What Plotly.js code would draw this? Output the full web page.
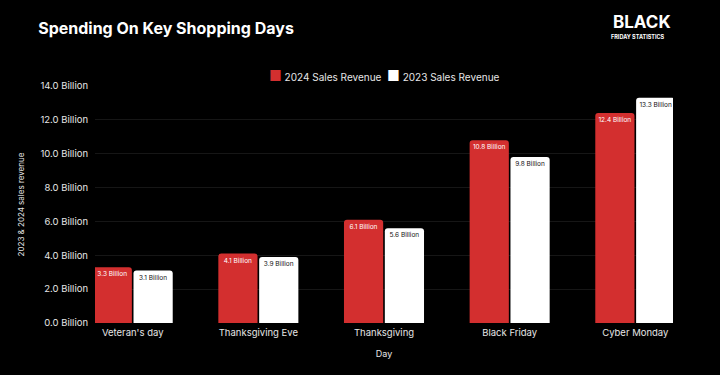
<!DOCTYPE html>
<html>
<head>
<meta charset="utf-8">
<script src="https://cdn.plot.ly/plotly-3.0.1.min.js"></script>
<style>html,body{margin:0;padding:0;background:#000;}#chart{width:720px;height:375px;}</style>
</head>
<body>
<div id="chart"></div>
<script>
const categories = ["Veteran's day", "Thanksgiving Eve", "Thanksgiving", "Black Friday", "Cyber Monday"];
const sales2024 = [3.3, 4.1, 6.1, 10.8, 12.4];
const sales2023 = [3.1, 3.9, 5.6, 9.8, 13.3];
const seriesNames = ["2024 Sales Revenue", "2023 Sales Revenue"];
const seriesColors = ['#d32f2f', '#ffffff'];
const labels2024 = sales2024.map(v => v.toFixed(1) + " Billion");
const labels2023 = sales2023.map(v => v.toFixed(1) + " Billion");

const font = "Inter, 'Open Sans', sans-serif";
const traces = [
  {type: 'bar', name: seriesNames[0], x: categories, y: sales2024, text: labels2024,
   textposition: 'inside', insidetextanchor: 'end', textangle: 0,
   textfont: {family: font, size: 6.5, color: '#ffffff'},
   marker: {color: seriesColors[0], cornerradius: 3}, hoverinfo: 'none', showlegend: false},
  {type: 'bar', name: seriesNames[1], x: categories, y: sales2023, text: labels2023,
   textposition: 'inside', insidetextanchor: 'end', textangle: 0,
   textfont: {family: font, size: 6.5, color: '#111111'},
   marker: {color: seriesColors[1], cornerradius: 3}, hoverinfo: 'none', showlegend: false}
];

const legendText = seriesNames.map((n, i) =>
  `<span style="color:${seriesColors[i]};font-size:14px">■</span> ${n}`).join('  ');

const layout = {
  width: 720, height: 375,
  paper_bgcolor: '#000000', plot_bgcolor: '#000000',
  margin: {l: 95, r: 47, t: 86, b: 52},
  font: {family: font, color: '#e6e6e6', size: 9},
  title: {text: '<b>Spending On Key Shopping Days</b>', x: 0.053, xanchor: 'left', y: 0.925, yanchor: 'middle',
          font: {family: font, size: 16, color: '#ffffff'}},
  barmode: 'group', bargap: 0.35, bargroupgap: 0.04,
  showlegend: false,
  xaxis: {range: [-0.3, 4.3], showgrid: false, zeroline: false, showline: false,
          tickfont: {family: font, size: 9.5, color: '#e6e6e6'}, ticks: '', ticklabelstandoff: 2,
          title: {text: 'Day', font: {family: font, size: 9, color: '#e6e6e6'}, standoff: 14}},
  yaxis: {range: [0, 14], dtick: 2, tickformat: '.1f', ticksuffix: ' Billion',
          showgrid: true, gridcolor: '#161616', gridwidth: 1, zeroline: false, showline: false,
          tickfont: {family: font, size: 9.5, color: '#e6e6e6'}, ticklabelstandoff: 6,
          title: {text: '2023 & 2024 sales revenue', font: {family: font, size: 8, color: '#e6e6e6'}, standoff: 14}},
  annotations: [
    {xref: 'paper', yref: 'paper', x: 0.5, y: 1.046, xanchor: 'center', yanchor: 'middle', showarrow: false,
     text: legendText, font: {family: font, size: 10, color: '#e6e6e6'}},
    {xref: 'paper', yref: 'paper', x: 1.0, y: 1.27, xanchor: 'right', yanchor: 'middle', showarrow: false,
     text: '<b>BLACK</b>', font: {family: font, size: 17, color: '#ffffff'}},
    {xref: 'paper', yref: 'paper', x: 0.99, y: 1.205, xanchor: 'right', yanchor: 'middle', showarrow: false,
     text: '<b>FRIDAY STATISTICS</b>', font: {family: font, size: 5.5, color: '#ffffff'}}
  ]
};

Plotly.newPlot('chart', traces, layout, {displayModeBar: false, staticPlot: true});
</script>
</body>
</html>
